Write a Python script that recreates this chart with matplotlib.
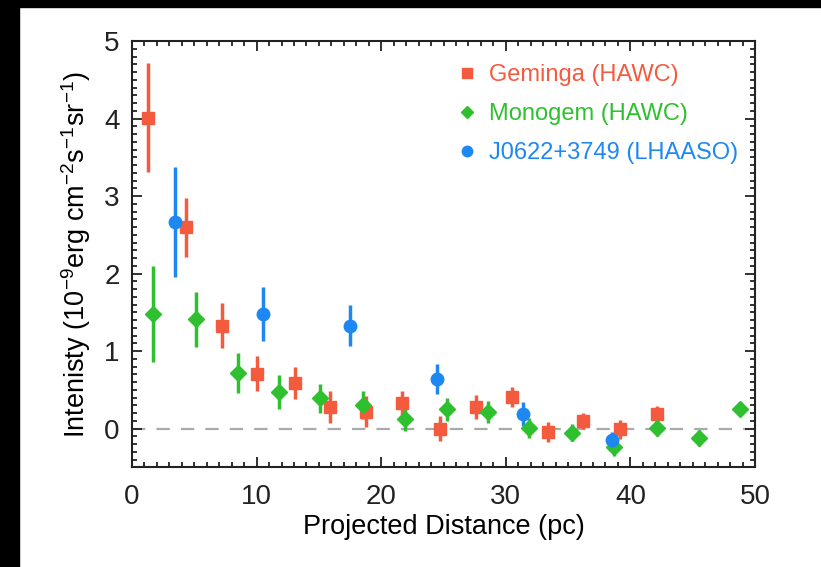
import matplotlib
matplotlib.use("Agg")
import matplotlib.pyplot as plt
from matplotlib.lines import Line2D
from matplotlib.patches import Rectangle
from matplotlib.ticker import MultipleLocator

plt.rcParams['font.family'] = ['Liberation Sans', 'DejaVu Sans']
plt.rcParams['mathtext.fontset'] = 'custom'
plt.rcParams['mathtext.rm'] = 'Liberation Sans'
plt.rcParams['mathtext.it'] = 'Liberation Sans'

# Geminga (HAWC)
gem_x = [1.3, 4.3, 7.2, 10.0, 13.1, 15.9, 18.8, 21.7, 24.7, 27.6, 30.5, 33.4, 36.2, 39.2, 42.1]
gem_y = [4.01, 2.60, 1.33, 0.71, 0.59, 0.28, 0.22, 0.33, 0.00, 0.28, 0.41, -0.04, 0.10, -0.01, 0.19]
gem_e = [0.70, 0.38, 0.29, 0.23, 0.21, 0.20, 0.20, 0.16, 0.16, 0.16, 0.13, 0.13, 0.10, 0.12, 0.10]

# Monogem (HAWC)
mon_x = [1.7, 5.1, 8.5, 11.8, 15.1, 18.5, 21.9, 25.3, 28.6, 31.9, 35.3, 38.7, 42.1, 45.5, 48.8]
mon_y = [1.48, 1.41, 0.72, 0.47, 0.39, 0.31, 0.12, 0.25, 0.22, 0.01, -0.05, -0.23, 0.01, -0.12, 0.26]
mon_e = [0.62, 0.35, 0.26, 0.22, 0.19, 0.18, 0.15, 0.15, 0.14, 0.13, 0.11, 0.12, 0.10, 0.10, 0.07]

# J0622+3749 (LHAASO)
lha_x = [3.45, 10.5, 17.5, 24.5, 31.4, 38.5]
lha_y = [2.67, 1.48, 1.33, 0.64, 0.19, -0.14]
lha_e = [0.71, 0.35, 0.26, 0.19, 0.15, 0.10]

c_red = '#F45A3E'
c_green = '#2EC02E'
c_blue = '#1E88F2'

fig = plt.figure(figsize=(8.21, 5.67), dpi=100)
ax = fig.add_axes([0.1608, 0.1755, 0.7588, 0.7522])

ax.axhline(0, color='#AAAAAA', lw=1.6, dashes=(6, 5), zorder=1)

ekw = dict(linestyle='none', elinewidth=2.5, capsize=0, zorder=3)
ax.errorbar(gem_x, gem_y, yerr=gem_e, fmt='s', color=c_red, ms=9, mec=c_red, **ekw)
ax.errorbar(mon_x, mon_y, yerr=mon_e, fmt='D', color=c_green, ms=8, mec=c_green, **ekw)
ax.errorbar(lha_x, lha_y, yerr=lha_e, fmt='o', color=c_blue, ms=9, mec=c_blue, **ekw)

ax.set_xlim(0, 50)
ax.set_ylim(-0.5, 5)
ax.xaxis.set_major_locator(MultipleLocator(10))
ax.xaxis.set_minor_locator(MultipleLocator(1))
ax.yaxis.set_major_locator(MultipleLocator(1))
ax.yaxis.set_minor_locator(MultipleLocator(0.1))
ax.tick_params(which='both', direction='in', top=True, right=True, width=1.3, colors='#222222')
ax.tick_params(which='major', length=7, labelsize=20)
ax.tick_params(axis='x', which='major', pad=12)
ax.tick_params(axis='y', which='major', pad=9)
ax.tick_params(which='minor', length=3.5)
for s in ax.spines.values():
    s.set_linewidth(1.5)
    s.set_color('#222222')

ax.set_xlabel('Projected Distance (pc)', fontsize=19.5, labelpad=3)
ax.set_ylabel(r'Intenisty (10$^{\mathregular{-9}}$erg cm$^{\mathregular{-2}}$s$^{\mathregular{-1}}$sr$^{\mathregular{-1}}$)',
              fontsize=19.5, labelpad=8)

handles = [Line2D([], [], ls='none', marker='s', color=c_red, ms=7.5),
           Line2D([], [], ls='none', marker='D', color=c_green, ms=6.5),
           Line2D([], [], ls='none', marker='o', color=c_blue, ms=7.5)]
labels = ['Geminga (HAWC)', 'Monogem (HAWC)', 'J0622+3749 (LHAASO)']
leg = ax.legend(handles, labels, loc='upper right', bbox_to_anchor=(1.0, 0.985), frameon=False,
                fontsize=17, handlelength=0.8, handletextpad=0.55, labelspacing=0.72,
                labelcolor=[c_red, c_green, c_blue], borderaxespad=0.3)

fig.add_artist(Rectangle((0, 0), 19 / 821, 1, transform=fig.transFigure, color='black', zorder=10))
fig.add_artist(Rectangle((0, 1 - 7 / 567), 1, 7 / 567, transform=fig.transFigure, color='black', zorder=10))

fig.savefig('out.png', dpi=100)
